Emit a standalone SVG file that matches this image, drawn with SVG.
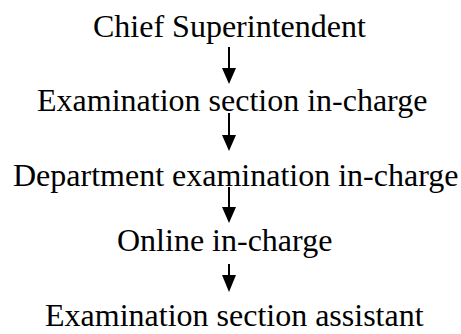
<svg xmlns="http://www.w3.org/2000/svg" width="461" height="334" viewBox="0 0 461 334">
<style>
text{font-family:"Liberation Serif","Times New Roman",serif;font-size:32px;fill:#000}
.s{stroke:#000;stroke-width:2;fill:none}
.h{fill:#000}
</style>
<rect width="461" height="334" fill="#fff"/>
<g id="connectors">
<line class="s" x1="229" y1="47" x2="229" y2="70"/>
<polygon class="h" points="222,68 236,68 229,84"/>
<line class="s" x1="229" y1="113" x2="229" y2="137"/>
<polygon class="h" points="222,135 236,135 229,151"/>
<line class="s" x1="229" y1="187" x2="229" y2="209"/>
<polygon class="h" points="222,207 236,207 229,223"/>
<line class="s" x1="229" y1="264" x2="229" y2="277"/>
<polygon class="h" points="222,275 236,275 229,292"/>
</g>
<g id="n1"><text x="93" y="37">Chief Superintendent</text></g>
<g id="n2"><text x="37" y="111">Examination section in-charge</text></g>
<g id="n3"><text x="13" y="186">Department examination in-charge</text></g>
<g id="n4"><text x="117" y="251">Online in-charge</text></g>
<g id="n5"><text x="45" y="326">Examination section assistant</text></g>
</svg>
